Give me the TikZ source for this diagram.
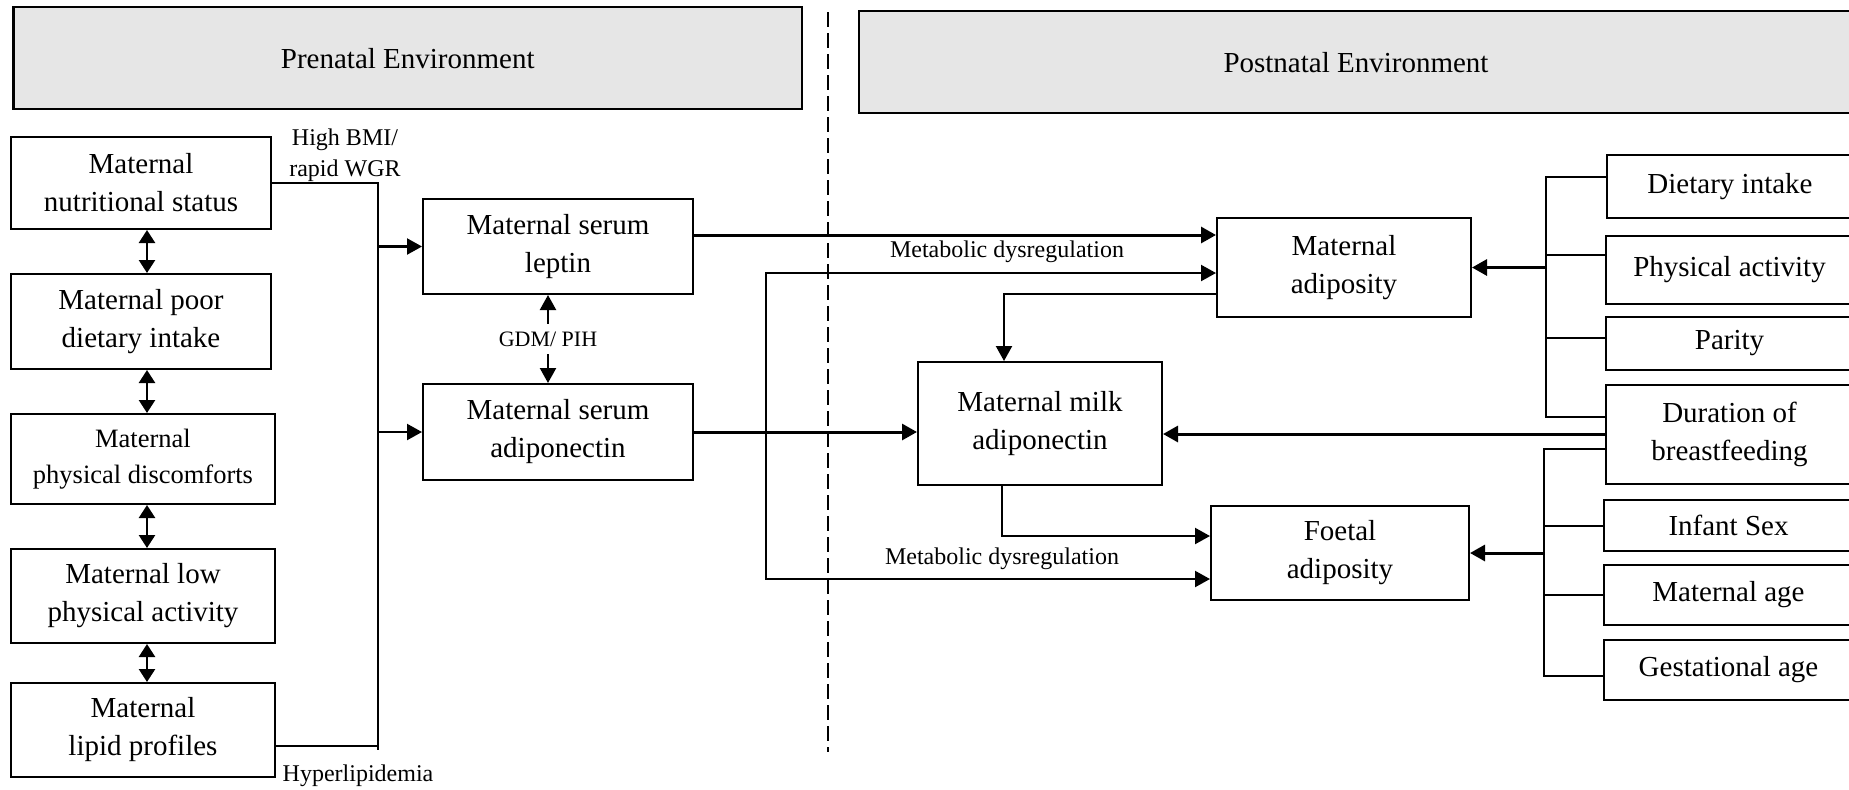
\documentclass[tikz,border=0pt]{standalone}
\usepackage{fontspec}
\setmainfont{Liberation Serif}
\usetikzlibrary{arrows.meta}
\definecolor{hdrgray}{RGB}{230,230,230}
\newcommand\pbox[7][]{%
  \node[box,#1,minimum width={(#5-#3)*0.5pt},minimum height={(#6-#4)*0.5pt}] (#2) at ({(#3+#5)/2},{(#4+#6)/2}) {#7};}
\tikzset{
  box/.style={draw,line width=1pt,inner sep=0pt,align=center,font=\fontsize{14.5}{19}\selectfont},
  hdr/.style={fill=hdrgray,line width=1.1pt},
  small/.style={font=\fontsize{13.25}{18}\selectfont},
  ln/.style={line width=1pt},
  arr/.style={line width=1.1pt,-{Triangle[length=7.5pt,width=8pt]}},
  arrs/.style={line width=1.1pt,{Triangle[length=7.5pt,width=8pt]}-{Triangle[length=7.5pt,width=8pt]}},
  thk/.style={line width=1.5pt,-{Triangle[length=7.5pt,width=8pt]}},
  dbl/.style={line width=1.3pt,{Triangle[length=6.5pt,width=8pt]}-{Triangle[length=6.5pt,width=8pt]}},
  lbl/.style={inner sep=0pt,align=center,font=\fontsize{12}{15.3}\selectfont},
  divider/.style={line width=0.75pt,dash pattern=on 7.5pt off 3pt},
}
\begin{document}
\begin{tikzpicture}[x=0.5pt,y=-0.5pt]
\useasboundingbox (0,0) rectangle (1849,789);
% headers
\pbox[hdr]{hdrA}{13.5}{7}{802}{109}{\raisebox{-5pt}[0pt][0pt]{Prenatal Environment}}
\pbox[hdr]{hdrB}{859}{11}{1853}{113}{\raisebox{-5pt}[0pt][0pt]{Postnatal Environment}}
% divider
\coordinate (dv1) at (828,12);
\coordinate (dv2) at (828,752);
\draw[divider] (dv1) -- (dv2);
% left column
\pbox{nut}{11}{137}{271}{229}{Maternal\\nutritional status}
\pbox{diet}{11}{274}{271}{369}{Maternal poor\\dietary intake}
\pbox[small]{disc}{11}{414}{275}{504}{Maternal\\physical discomforts}
\pbox{lowpa}{11}{549}{275}{643}{Maternal low\\physical activity}
\pbox{lipid}{11}{683}{275}{777}{Maternal\\lipid profiles}
% serum boxes
\pbox{lep}{423}{199}{693}{294}{Maternal serum\\leptin}
\pbox{adp}{423}{384}{693}{480}{Maternal serum\\adiponectin}
% middle
\pbox{madi}{1217}{218}{1471}{317}{Maternal\\adiposity}
\pbox{milk}{918}{362}{1162}{485}{Maternal milk\\adiponectin}
\pbox{fadi}{1211}{506}{1469}{600}{Foetal\\adiposity}
% right column
\pbox{di}{1607}{155}{1853}{218}{Dietary intake}
\pbox{pa}{1606}{236}{1853}{304}{Physical activity}
\pbox{par}{1606}{317}{1853}{370}{Parity}
\pbox{dur}{1606}{385}{1853}{484}{Duration of\\breastfeeding}
\pbox{sex}{1604}{500}{1853}{551}{Infant Sex}
\pbox{mage}{1604}{565}{1853}{625}{Maternal age}
\pbox{gage}{1604}{640}{1853}{700}{Gestational age}
% labels
\node[lbl] (bmi) at (345,155) {High BMI/\\rapid WGR};
\node[lbl] (hyp) at (358,776) {Hyperlipidemia};
\node[lbl,font=\fontsize{11}{13}\selectfont,minimum height=15pt] (gdm) at (548,339) {GDM/ PIH};
\node[lbl] (met1) at (1007,252) {Metabolic dysregulation};
\node[lbl] (met2) at (1002,559) {Metabolic dysregulation};
% helper coordinates
\coordinate (busX) at (378,0);
\coordinate (busBot) at (378,750);
\coordinate (lipY) at (0,746);
\coordinate (dblX) at (147,0);
\coordinate (yLep) at (0,235);
\coordinate (metX) at (766,0);
\coordinate (ym1) at (0,273);
\coordinate (ym2) at (0,579);
\coordinate (yMa) at (0,294);
\coordinate (x1004) at (1004,0);
\coordinate (x1002) at (1002,0);
\coordinate (y536) at (0,536);
\coordinate (y434) at (0,434);
\coordinate (bx1) at (1546,0);
\coordinate (bx2) at (1544,0);
\coordinate (y177) at (0,177);
\coordinate (y255) at (0,255);
\coordinate (y338) at (0,338);
\coordinate (y417) at (0,417);
\coordinate (y449) at (0,449);
\coordinate (y676) at (0,676);
% prenatal bus
\draw[ln] (nut.east) -| (busBot);
\draw[ln] (lipid.east |- lipY) -- (busX |- lipY);
\draw[arr] (busX |- lep.west) -- (lep.west);
\draw[arr] (busX |- adp.west) -- (adp.west);
% double arrows left
\draw[dbl] (dblX |- nut.south) -- (dblX |- diet.north);
\draw[dbl] (dblX |- diet.south) -- (dblX |- disc.north);
\draw[dbl] (dblX |- disc.south) -- (dblX |- lowpa.north);
\draw[dbl] (dblX |- lowpa.south) -- (dblX |- lipid.north);
% GDM/PIH
\draw[arr] (gdm.north) -- (gdm.north |- lep.south);
\draw[arr] (gdm.south) -- (gdm.south |- adp.north);
% serum to postnatal
\draw[thk] (lep.east |- yLep) -- (madi.west |- yLep);
\draw[thk] (adp.east) -- (milk.west |- adp.east);
% metabolic dysregulation
\draw[arrs] (madi.west |- ym1) -| (metX |- ym2) -- (fadi.west |- ym2);
% adiposity to milk
\draw[arr] (madi.west |- yMa) -| (x1004 |- milk.north);
% milk to foetal
\draw[arr] (x1002 |- milk.south) |- (fadi.west |- y536);
% duration to milk
\draw[thk] (dur.west |- y434) -- (milk.east |- y434);
% maternal bracket
\draw[ln] (di.west |- y177) -| (bx1 |- y417) -- (dur.west |- y417);
\draw[ln] (bx1 |- y255) -- (pa.west |- y255);
\draw[ln] (bx1 |- y338) -- (par.west |- y338);
\draw[thk] (bx1 |- madi.east) -- (madi.east);
% foetal bracket
\draw[ln] (dur.west |- y449) -| (bx2 |- y676) -- (gage.west |- y676);
\draw[ln] (bx2 |- sex.west) -- (sex.west);
\draw[ln] (bx2 |- mage.west) -- (mage.west);
\draw[thk] (bx2 |- fadi.east) -- (fadi.east);
\end{tikzpicture}
\end{document}
